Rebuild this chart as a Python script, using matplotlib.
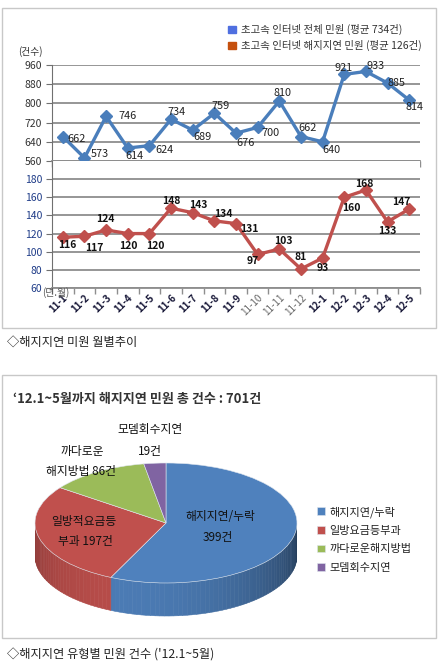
import numpy as np
import matplotlib
matplotlib.use("Agg")
import matplotlib.pyplot as plt
from matplotlib.patches import Rectangle, Polygon, Patch
from matplotlib.colors import to_rgb

plt.rcParams['font.family'] = ['Noto Sans CJK KR', 'DejaVu Sans']

# ---- data ----
months = ['11-1', '11-2', '11-3', '11-4', '11-5', '11-6', '11-7', '11-8', '11-9',
          '11-10', '11-11', '11-12', '12-1', '12-2', '12-3', '12-4', '12-5']
total_cases = [662, 573, 746, 614, 624, 734, 689, 759, 676, 700, 810, 662, 640, 921, 933, 885, 814]
delay_cases = [116, 117, 124, 120, 120, 148, 143, 134, 131, 97, 103, 81, 93, 160, 168, 133, 147]
legend_top = ['초고속 인터넷 전체 민원 (평균 734건)', '초고속 인터넷 해지지연 민원 (평균 126건)']

pie_labels = ['해지지연/누락', '일방요금등부과', '까다로운해지방법', '모뎀회수지연']
pie_counts = [399, 197, 86, 19]

# label offsets in pixels (dx, dy up)
off_top = [(14, -2), (15, 4), (21, 0), (7, -8), (15, -4), (5, 7), (10, -7), (6, 7), (10, -10),
           (13, -6), (3, 8), (7, 9), (9, -8), (-1, 6), (10, 5), (9, 0), (5, -7)]
off_bot = [(4, -8), (10, -12), (-1, 11), (1, -12), (6, -12), (0, 7), (6, 8), (9, 7), (13, -5),
           (-5, -7), (4, 8), (0, 12), (0, -10), (7, -11), (-2, 6), (0, -9), (-8, 7)]

W, H = 438, 672
fig = plt.figure(figsize=(W / 100, H / 100), dpi=100)


def fx(px):
    return px / W


def fy(py):
    return 1 - py / H


def box(x0, y0, x1, y1):
    fig.add_artist(Rectangle((fx(x0), fy(y1)), fx(x1) - fx(x0), fy(y0) - fy(y1),
                             transform=fig.transFigure, fill=False, ec='#c8c8c8', lw=1))


box(2, 8, 436, 328)
box(2, 375, 436, 638)

x = np.arange(len(months))
grid_c = '#8e8e8e'

ax1 = fig.add_axes([fx(52), fy(161), fx(420) - fx(52), fy(65) - fy(161)])
ax2 = fig.add_axes([fx(52), fy(288), fx(420) - fx(52), fy(161) - fy(288)])

for ax in (ax1, ax2):
    ax.set_xlim(-0.5, len(months) - 0.5)
    ax.spines['top'].set_visible(False)
    ax.spines['right'].set_visible(False)
    ax.spines['left'].set_color('#707070')
    ax.spines['bottom'].set_color(grid_c)
    ax.spines['bottom'].set_linewidth(1.3)
    ax.yaxis.grid(True, color=grid_c, lw=1.3)
    ax.set_axisbelow(True)
    ax.set_xticks(np.arange(-0.5, len(months)), minor=True)
    ax.tick_params(axis='x', which='minor', length=4, color=grid_c, width=1)
    ax.tick_params(axis='x', which='major', length=0)
    ax.tick_params(axis='y', length=4, color='#707070', pad=3)

ax1.set_ylim(560, 960)
ax1.set_yticks(range(560, 961, 80))
ax1.set_xticks(x)
ax1.set_xticklabels([])
for t in ax1.get_yticklabels():
    t.set_fontsize(7.5)
    t.set_color('#333333')

ax2.set_ylim(60, 200)
ax2.set_yticks(range(60, 181, 20))
ax2.set_xticks(x)
ax2.set_xticklabels(months, rotation=45, ha='right', rotation_mode='anchor', fontsize=7)
for i, t in enumerate(ax2.get_xticklabels()):
    if months[i] in ('11-10', '11-11', '11-12'):
        t.set_color('#666666')
    else:
        t.set_fontweight('bold')
        t.set_color('#1a1a3a')
for t in ax2.get_yticklabels():
    t.set_fontsize(7.5)
    t.set_color('#1f3c88')

ax1.plot(x, total_cases, color='#4a7ebb', lw=2.4, marker='D', ms=6, clip_on=False, zorder=3)
ax2.plot(x, delay_cases, color='#c0504d', lw=2.4, marker='D', ms=6, clip_on=False, zorder=3)

for i, v in enumerate(total_cases):
    ax1.annotate(str(v), (x[i], v), xytext=off_top[i], textcoords='offset pixels',
                 ha='center', va='center', fontsize=7.8, color='#222222', zorder=4,
                 annotation_clip=False)
for i, v in enumerate(delay_cases):
    ax2.annotate(str(v), (x[i], v), xytext=off_bot[i], textcoords='offset pixels',
                 ha='center', va='center', fontsize=7.5, fontweight='bold', color='#111111',
                 zorder=4, annotation_clip=False)

fig.text(fx(18), fy(52), '(건수)', fontsize=7, color='#333333', va='center')
fig.text(fx(42), fy(293), '(년.월)', fontsize=7, color='#555555', va='center')

handles = [Patch(color='#4f6fe0'), Patch(color='#c5500e')]
fig.legend(handles, legend_top, loc='upper left', bbox_to_anchor=(fx(219), fy(15)),
           frameon=False, fontsize=7.5, handlelength=0.7, handleheight=0.7,
           handletextpad=0.5, labelspacing=0.45, labelcolor='#333333')

fig.text(fx(7), fy(342), '◇해지지연 미원 월별추이', fontsize=8.8, color='#222222', va='center')

# ---- 3D-ish pie ----
pie_colors = ['#4f81bd', '#c0504d', '#9bbb59', '#8064a2']
depth = 0.55
axp = fig.add_axes([fx(35), fy(619), fx(297) - fx(35), fy(460) - fy(619)])
wedges, _ = axp.pie(pie_counts, colors=pie_colors, startangle=90, counterclock=False,
                    radius=1, wedgeprops=dict(edgecolor='#dfe6ee', linewidth=0.4))
for w in wedges:
    w.set_zorder(3)
axp.set_aspect('auto')
axp.set_xlim(-1, 1)
axp.set_ylim(-1 - depth - 0.05, 1.05)
axp.axis('off')

for w, c in zip(wedges, pie_colors):
    lo, hi = sorted([w.theta1, w.theta2])
    base = np.array(to_rgb(c))
    for flo, fhi in ((-180, 0), (180, 360), (-540, -360)):
        a, b = max(lo, flo), min(hi, fhi)
        if b <= a:
            continue
        edges = np.linspace(a, b, max(2, int((b - a) / 2) + 1))
        for t1, t2 in zip(edges[:-1], edges[1:]):
            tm = np.radians((t1 + t2) / 2)
            shade = 0.6 + 0.35 * np.cos(tm - np.radians(250))
            col = np.clip(base * shade, 0, 1)
            r1, r2 = np.radians(t1), np.radians(t2)
            pts = [(np.cos(r1), np.sin(r1)), (np.cos(r2), np.sin(r2)),
                   (np.cos(r2), np.sin(r2) - depth), (np.cos(r1), np.sin(r1) - depth)]
            axp.add_patch(Polygon(pts, closed=True, fc=col, ec=col, lw=0.4, zorder=2))

fig.text(fx(13), fy(399), '‘12.1~5월까지 해지지연 민원 총 건수 : 701건', fontsize=9.4,
         fontweight='bold', color='#333333', va='center')

pie_text = [(220, 517, '해지지연/누락'), (218, 538, '399건'),
            (84, 522, '일방적요금등'), (85, 542, '부과 197건'),
            (82, 452, '까다로운'), (81, 472, '해지방법 86건'),
            (150, 430, '모뎀회수지연'), (150, 451, '19건')]
for px, py, s in pie_text:
    fig.text(fx(px), fy(py), s, fontsize=8.5, color='#111111', ha='center', va='center')

fig.legend(wedges, pie_labels, loc='upper left', bbox_to_anchor=(fx(307), fy(496)),
           frameon=False, fontsize=8, handlelength=0.7, handleheight=0.7,
           handletextpad=0.4, labelspacing=0.75, labelcolor='#222222')

fig.text(fx(7), fy(655), "◇해지지연 유형별 민원 건수 ('12.1~5월)", fontsize=8.8,
         color='#222222', va='center')

fig.savefig('out.png', dpi=100)
